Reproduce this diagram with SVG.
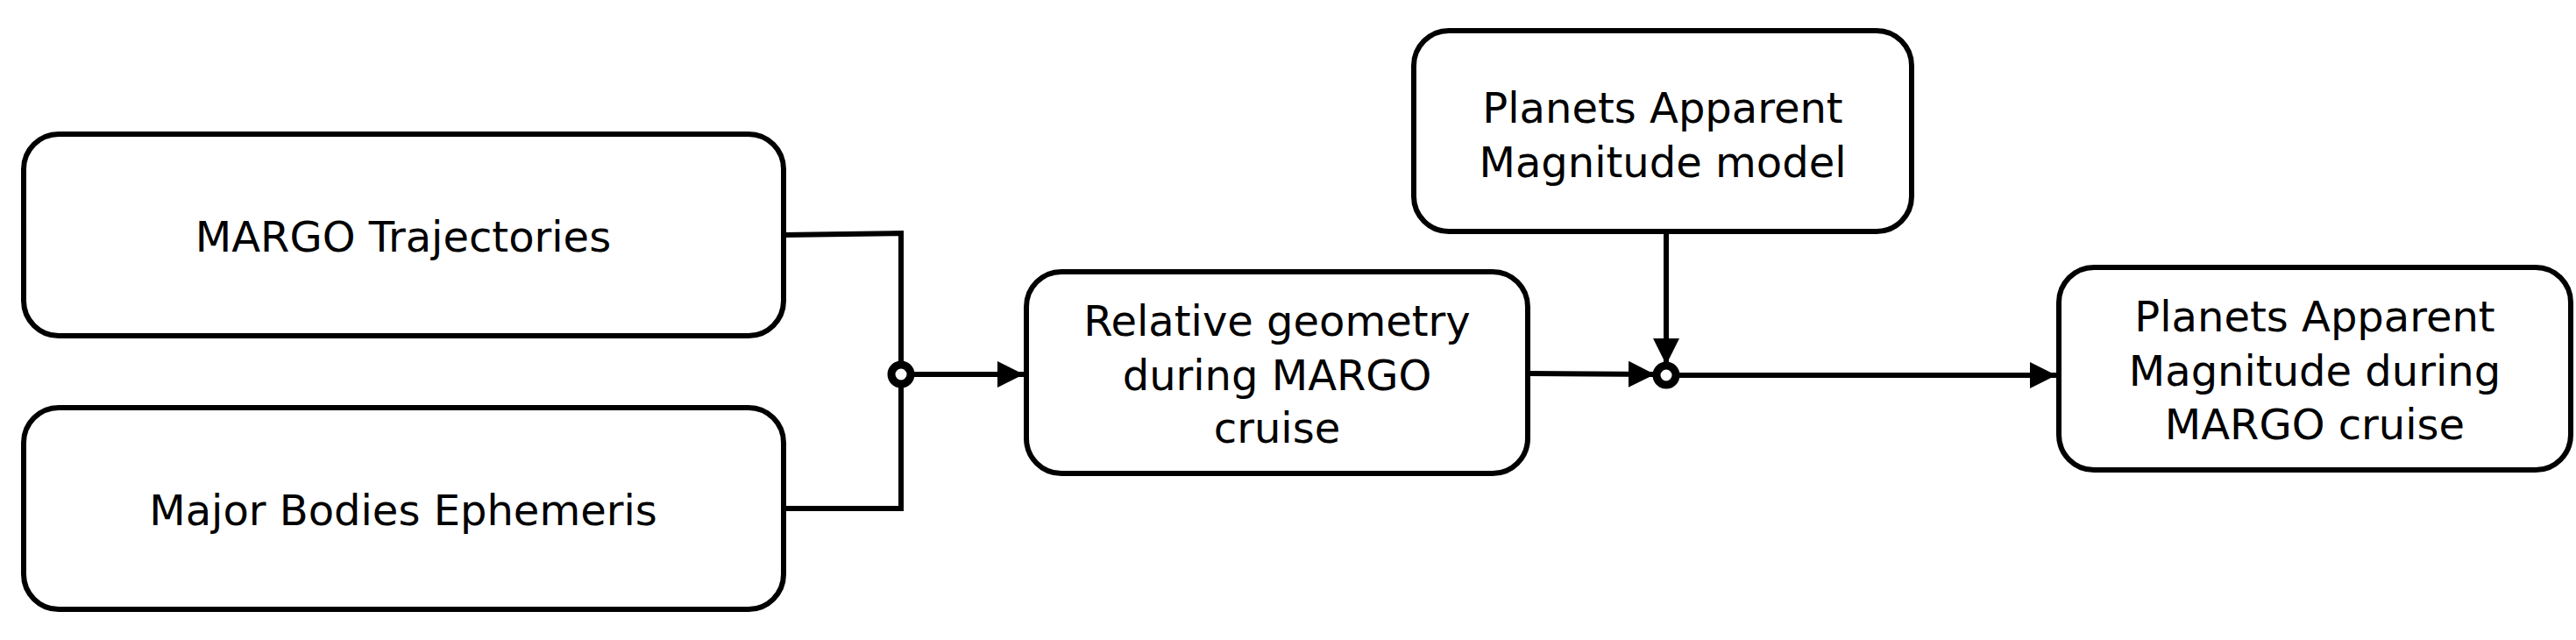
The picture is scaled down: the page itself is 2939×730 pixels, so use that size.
<svg xmlns="http://www.w3.org/2000/svg" width="2939" height="730" viewBox="0 0 2939 730">
<defs>
<style>
.box{fill:#fff;stroke:#000;stroke-width:6}
.t{font-family:"DejaVu Sans",Verdana,sans-serif;font-size:48px;text-anchor:middle;fill:#000}
.c{fill:none;stroke:#000;stroke-width:6}
.j{fill:#fff;stroke:#000;stroke-width:9}
</style>
<marker id="a" viewBox="0 0 10 10" refX="10" refY="5" markerWidth="30" markerHeight="32" markerUnits="userSpaceOnUse" orient="auto"><path d="M0,0 L10,5 L0,10 Z" fill="#000"/></marker>
</defs>
<g id="n1"><rect class="box" x="27" y="153" width="867" height="230" rx="40"/><text class="t" x="460" y="287">MARGO Trajectories</text></g>
<g id="n2"><rect class="box" x="27" y="465" width="867" height="230" rx="40"/><text class="t" x="460" y="599">Major Bodies Ephemeris</text></g>
<g id="n3"><rect class="box" x="1171" y="310" width="572" height="230" rx="40"/><text class="t" x="1457" y="383">Relative geometry</text><text class="t" x="1457" y="445">during MARGO</text><text class="t" x="1457" y="505">cruise</text></g>
<g id="n4"><rect class="box" x="1613" y="35" width="568" height="229" rx="40"/><text class="t" x="1897" y="140">Planets Apparent</text><text class="t" x="1897" y="202">Magnitude model</text></g>
<g id="n5"><rect class="box" x="2349" y="305" width="584" height="231" rx="40"/><text class="t" x="2641" y="378">Planets Apparent</text><text class="t" x="2641" y="440">Magnitude during</text><text class="t" x="2641" y="501">MARGO cruise</text></g>
<g id="connectors">
<path class="c" d="M894,268 L1028,266 L1028,580 L894,580"/>
<path class="c" d="M1039,427 L1168,427" marker-end="url(#a)"/>
<path class="c" d="M1743,426 L1888,427" marker-end="url(#a)"/>
<path class="c" d="M1901,264 L1901,416" stroke-width="4" marker-end="url(#a)"/>
<path class="c" d="M1913,428 L2346,428" stroke-width="4" marker-end="url(#a)"/>
<circle class="j" cx="1028" cy="427" r="11"/>
<circle class="j" cx="1901" cy="428" r="11"/>
</g>
</svg>
